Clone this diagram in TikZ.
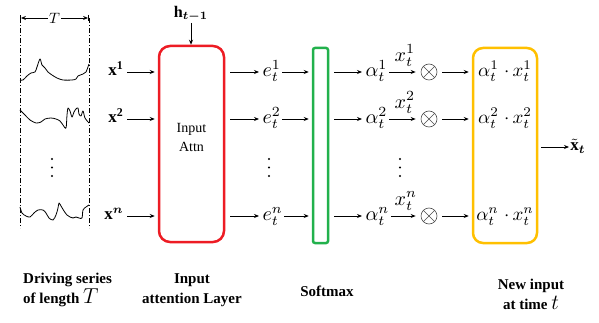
\documentclass[tikz,border=0pt]{standalone}
\usepackage{amsmath}
\usepackage{bm}
\usepackage{graphicx}
\usepackage{fontspec}
\setmainfont{Liberation Serif}
\usetikzlibrary{arrows.meta}
\definecolor{boxred}{RGB}{237,28,36}
\definecolor{boxgreen}{RGB}{34,177,76}
\definecolor{boxyellow}{RGB}{255,192,0}
\begin{document}
\begin{tikzpicture}[x=1pt,y=-1pt,
  >={Stealth[length=5pt,width=4pt]},
  arr/.style={->, line width=0.9pt},
  mlab/.style={inner sep=0.6pt, scale=1.7, transform shape},
  slab/.style={inner sep=0.6pt, scale=2.0, transform shape},
  caplab/.style={inner sep=0pt, font=\fontsize{15}{20}\selectfont\bfseries},
  wave/.style={line width=0.8pt, line join=round},
  dashv/.style={line width=0.9pt, dash pattern=on 5pt off 2pt on 1pt off 2pt},
  dotc/.style={fill=black},
  otimesnode/.style={circle, draw=black!70, line width=0.6pt, minimum size=16pt, inner sep=0pt},
  bigbox/.style={draw, line width=2.5pt, fill=white}]
\useasboundingbox (0,0) rectangle (599,323);

% driving series
\draw[dashv] (20,18) -- (20,228);
\draw[dashv] (89,18) -- (89,228);
\draw[line width=0.9pt, |<->|] (20,18) -- (89,18) node[midway, fill=white, inner sep=1.5pt] (tlab) {\scalebox{1.5}{$T$}};
\draw[wave] plot[smooth, tension=0.5] coordinates {(20,80) (23,80) (27,76) (31,73) (35,72) (37,67) (40,59) (42,65) (45,68) (48,72) (52,75) (57,78) (63,80) (72,80) (76,79) (78,76) (83,74) (86,72) (89,64)};
\draw[wave] plot[smooth, tension=0.5] coordinates {(20,110) (25,115) (30,120) (36,123) (41,122) (45,119) (51,118) (56,119) (60,121) (63,125) (66,128) (67,115) (68,108) (70,111) (72,117) (74,112) (76,109) (78,108) (79,114) (81,116) (83,111) (85,118) (89,123)};
\draw[wave] plot[smooth, tension=0.5] coordinates {(20,207) (22,213) (26,216) (30,217) (34,213) (38,210) (43,210) (46,213) (49,218) (53,220) (56,215) (58,208) (59,203) (61,206) (64,211) (67,215) (70,217) (73,218) (76,217) (79,218) (82,218) (83,210) (86,207) (89,205)};
\foreach \xx in {52,269,400,505}{
  \foreach \yy in {159,167.5,176}{
    \fill[dotc] (\xx,\yy) circle (1.2pt);
  }
}

% boxes
\node[bigbox, draw=boxred, rounded corners=11pt, minimum width=65pt, minimum height=196pt] (attn) at (191.5,144) {};
\node[font=\fontsize{14}{19}\selectfont, align=center, inner sep=0pt] (attnlbl) at (191.5,137.5) {Input\\Attn};
\node[bigbox, draw=boxgreen, rounded corners=2pt, minimum width=15pt, minimum height=195pt] (soft) at (320.5,145.5) {};
\node[bigbox, draw=boxyellow, rounded corners=10pt, minimum width=64pt, minimum height=195pt] (yel) at (505,145.5) {};

% h_{t-1}
\node[mlab, anchor=south, scale=0.95] (h) at (191,23) {$\mathbf{h}_{\bm{t-1}}$};
\draw[arr] (h.south) -- (h.south |- attn.north);

% x inputs
\node[mlab, anchor=mid east] (x1) at (125,72) {$\mathbf{x}^{\mathbf{1}}$};
\node[mlab, anchor=mid east] (x2) at (125,119) {$\mathbf{x}^{\mathbf{2}}$};
\node[mlab, anchor=mid east] (xn) at (125,216) {$\mathbf{x}^{\bm{n}}$};
\foreach \n in {x1,x2,xn}{
  \draw[arr, shorten <=2pt, shorten >=3pt] (\n.mid east) -- (\n.mid east -| attn.west);
}

% e scores
\node[slab, anchor=mid west] (e1) at (261,72) {$e_t^1$};
\node[slab, anchor=mid west] (e2) at (261,119) {$e_t^2$};
\node[slab, anchor=mid west] (en) at (261,216) {$e_t^n$};
\foreach \n in {e1,e2,en}{
  \draw[arr, shorten <=5pt, shorten >=2pt] (\n.mid west -| attn.east) -- (\n.mid west);
  \draw[arr, shorten >=3pt] (\n.mid east) -- (\n.mid east -| soft.west);
}

% alpha weights
\node[slab, anchor=mid west] (a1) at (364,72) {$\alpha_t^1$};
\node[slab, anchor=mid west] (a2) at (364,119) {$\alpha_t^2$};
\node[slab, anchor=mid west] (an) at (364,216) {$\alpha_t^n$};
\node[otimesnode] (o1) at (429,72) {};
\node[otimesnode] (o2) at (429,119) {};
\node[otimesnode] (on) at (429,216) {};
\foreach \n in {o1,o2,on}{
  \draw[black!70, line width=0.6pt] (\n.north west) -- (\n.south east);
  \draw[black!70, line width=0.6pt] (\n.north east) -- (\n.south west);
}
\foreach \a/\o/\k in {a1/o1/1,a2/o2/2,an/on/n}{
  \draw[arr, shorten <=5pt, shorten >=2pt] (\a.mid west -| soft.east) -- (\a.mid west);
  \draw[arr, shorten >=5pt] (\a.mid east) -- (\o.west) node[midway, above=5pt, inner sep=0pt, scale=2.0, transform shape] {$x_t^\k$};
  \draw[arr, shorten <=5pt, shorten >=3pt] (\o.east) -- (\o.east -| yel.west);
}

% products
\node[slab, anchor=mid, scale=0.95] (p1) at (505,72) {$\alpha_t^1\;{\cdot}\,x_t^1$};
\node[slab, anchor=mid, scale=0.95] (p2) at (505,119) {$\alpha_t^2\;{\cdot}\,x_t^2$};
\node[slab, anchor=mid, scale=0.95] (pn) at (505,216) {$\alpha_t^n\;{\cdot}\,x_t^n$};

% output
\node[mlab, anchor=mid west] (xt) at (569,147) {$\tilde{\mathbf{x}}_{\bm t}$};
\draw[arr, shorten <=3pt] (yel.east |- xt.mid west) -- (xt.mid west);

% captions
\node[caplab, align=left, anchor=west] (c1) at (23,290) {Driving series\\of length \scalebox{1.5}{$T$}};
\node[caplab, align=center] (c2) at (192,290) {Input\\attention Layer};
\node[caplab] (c3) at (327,291) {Softmax};
\node[caplab, align=center] (c4) at (531,294) {New input\\at time \scalebox{1.5}{$t$}};
\end{tikzpicture}
\end{document}
